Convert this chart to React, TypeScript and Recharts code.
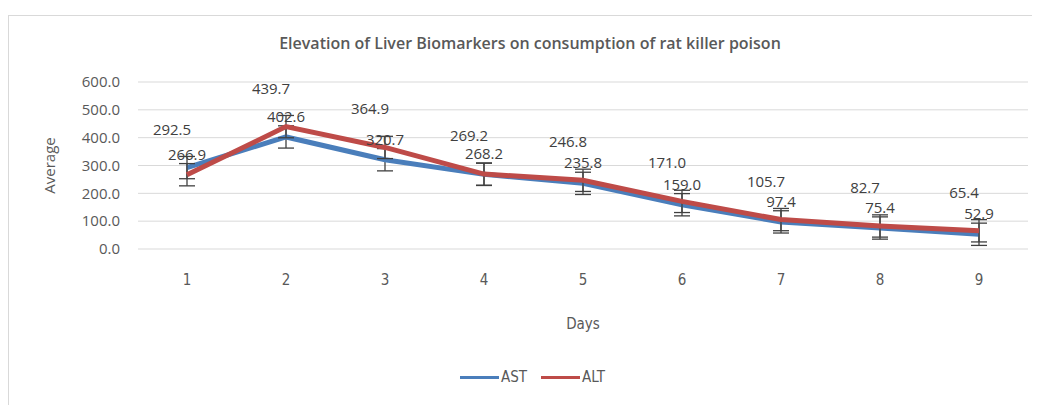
import { CartesianGrid, ErrorBar, LabelList, Legend, Line, LineChart, XAxis, YAxis } from "recharts"

const days = ["1", "2", "3", "4", "5", "6", "7", "8", "9"]
const ast = [292.5, 402.6, 320.7, 268.2, 235.8, 159.0, 97.4, 75.4, 52.9]
const alt = [266.9, 439.7, 364.9, 269.2, 246.8, 171.0, 105.7, 82.7, 65.4]
const astErr = [40, 40, 40, 40, 40, 40, 40, 40, 40]
const altErr = [40, 40, 40, 40, 40, 40, 40, 40, 40]
const yTicks = [0, 100, 200, 300, 400, 500, 600]

const data = days.map((day, i) => ({
  day,
  AST: ast[i],
  ALT: alt[i],
  astErr: astErr[i],
  altErr: altErr[i],
}))

const BLUE = "#4a7ebb"
const RED = "#be4b48"
const TEXT = "#595959"
const narrow = "'Liberation Sans Narrow', 'DejaVu Sans Condensed', 'Open Sans', sans-serif"

// the higher of the two values at a day gets its label pushed up and left
const makeLabel = (own: number[], other: number[]) => (props: any) => {
  const { x, y, value, index } = props
  const higher = own[index] > other[index]
  const dx = higher ? -15 : 0
  const dy = higher ? -39 : -21
  return (
    <text
      x={x + dx}
      y={y + dy}
      textAnchor="middle"
      dominantBaseline="central"
      fontSize={15}
      fontFamily="'Open Sans', sans-serif"
      fill="#404040"
    >
      {Number(value).toFixed(1)}
    </text>
  )
}

const renderLegend = () => (
  <div style={{ display: "flex", alignItems: "center", height: 20, fontFamily: narrow, fontSize: 15, color: TEXT }}>
    {[
      { name: "AST", color: BLUE },
      { name: "ALT", color: RED },
    ].map((item) => (
      <div key={item.name} style={{ display: "flex", alignItems: "center", marginRight: 14 }}>
        <div style={{ width: 39, height: 3, background: item.color, marginRight: 2 }} />
        <span>{item.name}</span>
      </div>
    ))}
  </div>
)

export default function App() {
  return (
    <div
      style={{
        position: "relative",
        marginTop: 7,
        width: 1030,
        height: 390,
        borderTop: "1px solid #d9d9d9",
        borderLeft: "1px solid #d9d9d9",
        background: "#fff",
      }}
    >
      <div
        style={{
          position: "absolute",
          top: 16,
          left: 0,
          width: 1042,
          textAlign: "center",
          fontFamily: "'Open Sans', sans-serif",
          fontWeight: 600,
          fontSize: 16,
          lineHeight: "22px",
          color: TEXT,
        }}
      >
        Elevation of Liver Biomarkers on consumption of rat killer poison
      </div>
      <LineChart width={1030} height={390} data={data} margin={{ top: 66, right: 11, left: 0, bottom: 52 }}>
        <CartesianGrid vertical={false} stroke="#d9d9d9" />
        <XAxis
          dataKey="day"
          axisLine={false}
          tickLine={false}
          tickSize={6}
          tickMargin={19}
          height={85}
          padding={{ left: 49, right: 49 }}
          tick={{ fontSize: 15, fill: TEXT, fontFamily: narrow }}
          label={{ value: "Days", position: "insideBottom", offset: 5, fontSize: 15, fill: TEXT, fontFamily: narrow }}
        />
        <YAxis
          domain={[0, 600]}
          ticks={yTicks}
          width={129}
          axisLine={false}
          tickLine={false}
          tickSize={6}
          tickMargin={12}
          tickFormatter={(v: number) => v.toFixed(1)}
          tick={{ fontSize: 15, fill: TEXT, fontFamily: "'Open Sans', sans-serif" }}
          label={{
            value: "Average",
            angle: -90,
            position: "insideLeft",
            offset: 41,
            fontSize: 15,
            fill: TEXT,
            fontFamily: "'Open Sans', sans-serif",
            style: { textAnchor: "middle" },
          }}
        />
        <Legend verticalAlign="bottom" content={renderLegend} wrapperStyle={{ left: 451, width: 200, top: 351, bottom: "auto" }} />
        <Line type="linear" dataKey="AST" stroke={BLUE} strokeWidth={5} dot={false} isAnimationActive={false}>
          <ErrorBar dataKey="astErr" direction="y" width={8} stroke="#404040" strokeWidth={1.3} />
          <LabelList dataKey="AST" content={makeLabel(ast, alt)} />
        </Line>
        <Line type="linear" dataKey="ALT" stroke={RED} strokeWidth={5} dot={false} isAnimationActive={false}>
          <ErrorBar dataKey="altErr" direction="y" width={8} stroke="#404040" strokeWidth={1.3} />
          <LabelList dataKey="ALT" content={makeLabel(alt, ast)} />
        </Line>
      </LineChart>
    </div>
  )
}
